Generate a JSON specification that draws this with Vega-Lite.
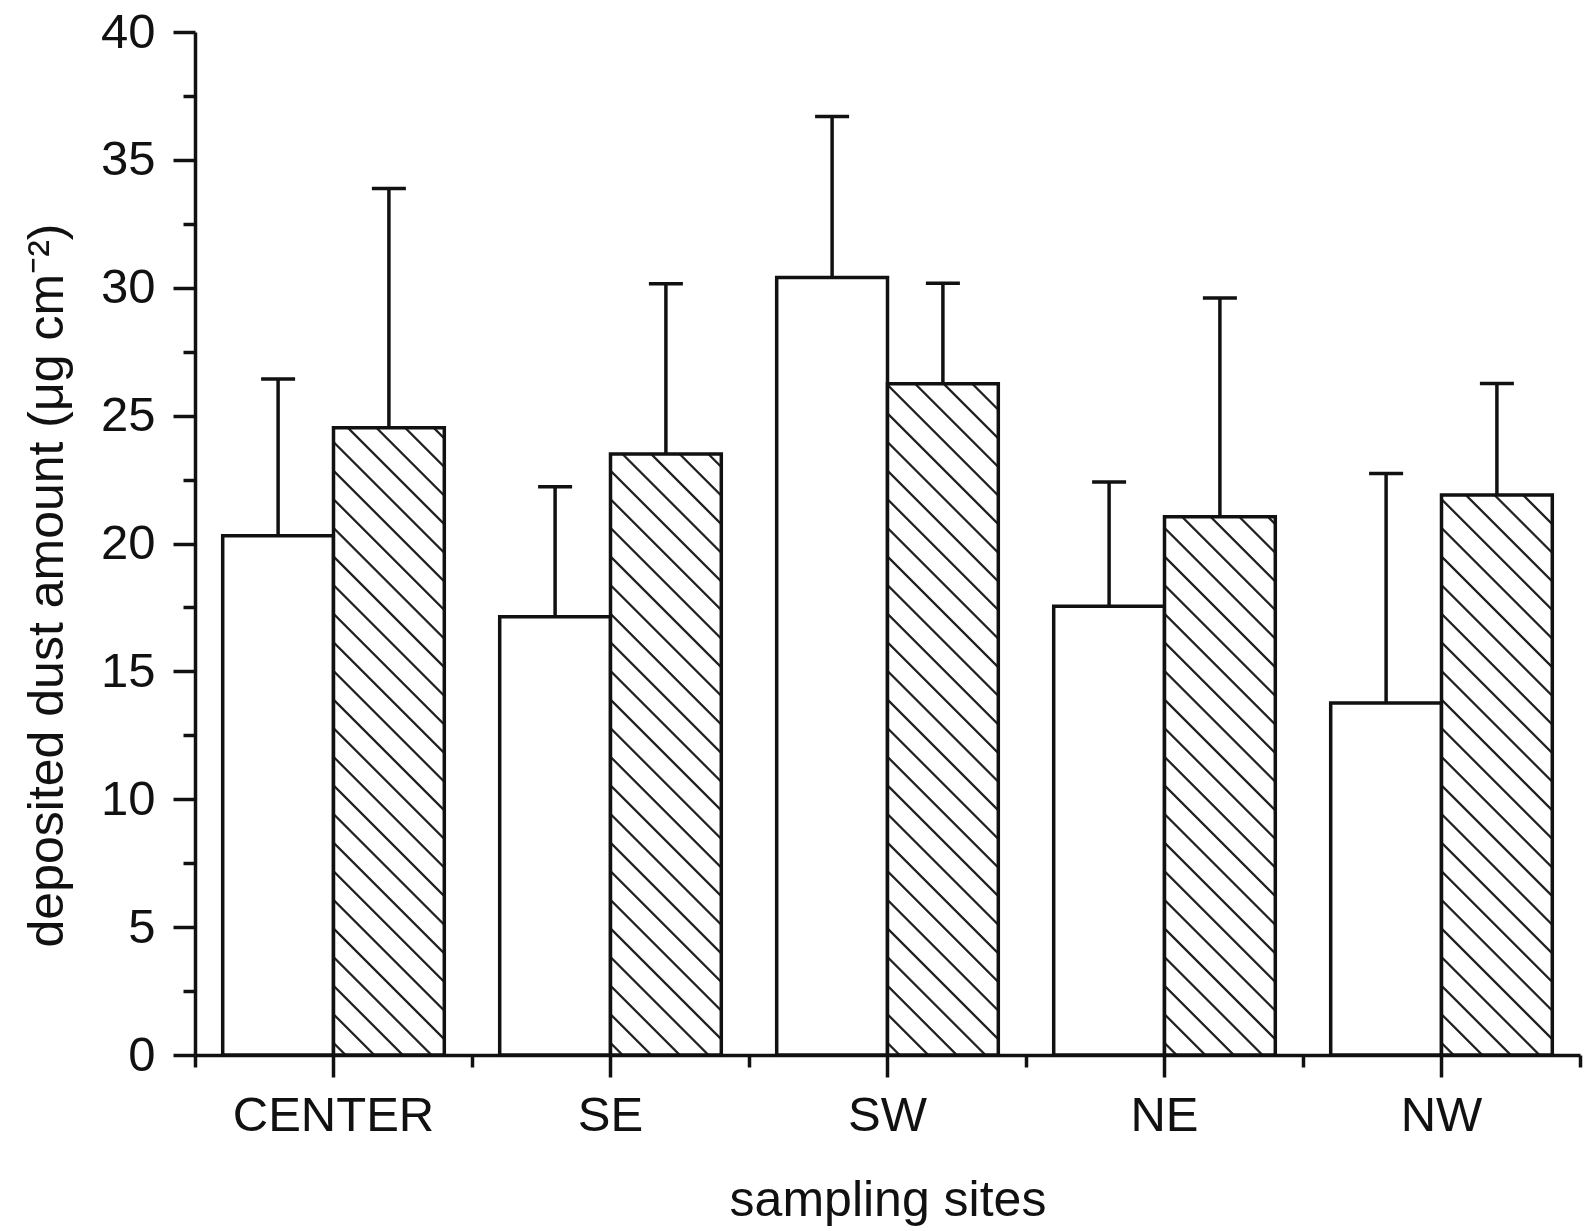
{
  "$schema": "https://vega.github.io/schema/vega-lite/v6.json",
  "autosize": {"type": "none"},
  "padding": {"left": 195, "top": 32, "right": 5, "bottom": 176},
  "width": 1385,
  "height": 1023,
  "background": "white",
  "config": {"view": {"stroke": null}, "font": "Liberation Sans"},
  "params": [
    {"name": "hatchStops", "value": [
      {"offset": 0, "color": "#ffffff"},
      {"offset": 0.0122, "color": "#ffffff"}, {"offset": 0.0138, "color": "#222222"}, {"offset": 0.0162, "color": "#222222"}, {"offset": 0.0178, "color": "#ffffff"},
      {"offset": 0.0477, "color": "#ffffff"}, {"offset": 0.0493, "color": "#222222"}, {"offset": 0.0517, "color": "#222222"}, {"offset": 0.0533, "color": "#ffffff"},
      {"offset": 0.0832, "color": "#ffffff"}, {"offset": 0.0848, "color": "#222222"}, {"offset": 0.0872, "color": "#222222"}, {"offset": 0.0888, "color": "#ffffff"},
      {"offset": 0.1187, "color": "#ffffff"}, {"offset": 0.1203, "color": "#222222"}, {"offset": 0.1227, "color": "#222222"}, {"offset": 0.1243, "color": "#ffffff"},
      {"offset": 0.1542, "color": "#ffffff"}, {"offset": 0.1558, "color": "#222222"}, {"offset": 0.1582, "color": "#222222"}, {"offset": 0.1598, "color": "#ffffff"},
      {"offset": 0.1897, "color": "#ffffff"}, {"offset": 0.1913, "color": "#222222"}, {"offset": 0.1937, "color": "#222222"}, {"offset": 0.1953, "color": "#ffffff"},
      {"offset": 0.2252, "color": "#ffffff"}, {"offset": 0.2268, "color": "#222222"}, {"offset": 0.2292, "color": "#222222"}, {"offset": 0.2308, "color": "#ffffff"},
      {"offset": 0.2607, "color": "#ffffff"}, {"offset": 0.2623, "color": "#222222"}, {"offset": 0.2647, "color": "#222222"}, {"offset": 0.2663, "color": "#ffffff"},
      {"offset": 0.2962, "color": "#ffffff"}, {"offset": 0.2978, "color": "#222222"}, {"offset": 0.3002, "color": "#222222"}, {"offset": 0.3018, "color": "#ffffff"},
      {"offset": 0.3317, "color": "#ffffff"}, {"offset": 0.3333, "color": "#222222"}, {"offset": 0.3357, "color": "#222222"}, {"offset": 0.3373, "color": "#ffffff"},
      {"offset": 0.3672, "color": "#ffffff"}, {"offset": 0.3688, "color": "#222222"}, {"offset": 0.3712, "color": "#222222"}, {"offset": 0.3728, "color": "#ffffff"},
      {"offset": 0.4027, "color": "#ffffff"}, {"offset": 0.4043, "color": "#222222"}, {"offset": 0.4067, "color": "#222222"}, {"offset": 0.4083, "color": "#ffffff"},
      {"offset": 0.4382, "color": "#ffffff"}, {"offset": 0.4398, "color": "#222222"}, {"offset": 0.4422, "color": "#222222"}, {"offset": 0.4438, "color": "#ffffff"},
      {"offset": 0.4737, "color": "#ffffff"}, {"offset": 0.4753, "color": "#222222"}, {"offset": 0.4777, "color": "#222222"}, {"offset": 0.4793, "color": "#ffffff"},
      {"offset": 0.5092, "color": "#ffffff"}, {"offset": 0.5108, "color": "#222222"}, {"offset": 0.5132, "color": "#222222"}, {"offset": 0.5148, "color": "#ffffff"},
      {"offset": 0.5447, "color": "#ffffff"}, {"offset": 0.5463, "color": "#222222"}, {"offset": 0.5487, "color": "#222222"}, {"offset": 0.5503, "color": "#ffffff"},
      {"offset": 0.5802, "color": "#ffffff"}, {"offset": 0.5818, "color": "#222222"}, {"offset": 0.5842, "color": "#222222"}, {"offset": 0.5858, "color": "#ffffff"},
      {"offset": 0.6157, "color": "#ffffff"}, {"offset": 0.6173, "color": "#222222"}, {"offset": 0.6197, "color": "#222222"}, {"offset": 0.6213, "color": "#ffffff"},
      {"offset": 0.6512, "color": "#ffffff"}, {"offset": 0.6528, "color": "#222222"}, {"offset": 0.6552, "color": "#222222"}, {"offset": 0.6568, "color": "#ffffff"},
      {"offset": 0.6867, "color": "#ffffff"}, {"offset": 0.6883, "color": "#222222"}, {"offset": 0.6907, "color": "#222222"}, {"offset": 0.6923, "color": "#ffffff"},
      {"offset": 0.7222, "color": "#ffffff"}, {"offset": 0.7238, "color": "#222222"}, {"offset": 0.7262, "color": "#222222"}, {"offset": 0.7278, "color": "#ffffff"},
      {"offset": 0.7577, "color": "#ffffff"}, {"offset": 0.7593, "color": "#222222"}, {"offset": 0.7617, "color": "#222222"}, {"offset": 0.7633, "color": "#ffffff"},
      {"offset": 0.7932, "color": "#ffffff"}, {"offset": 0.7948, "color": "#222222"}, {"offset": 0.7972, "color": "#222222"}, {"offset": 0.7988, "color": "#ffffff"},
      {"offset": 0.8287, "color": "#ffffff"}, {"offset": 0.8303, "color": "#222222"}, {"offset": 0.8327, "color": "#222222"}, {"offset": 0.8343, "color": "#ffffff"},
      {"offset": 0.8642, "color": "#ffffff"}, {"offset": 0.8658, "color": "#222222"}, {"offset": 0.8682, "color": "#222222"}, {"offset": 0.8698, "color": "#ffffff"},
      {"offset": 0.8997, "color": "#ffffff"}, {"offset": 0.9013, "color": "#222222"}, {"offset": 0.9037, "color": "#222222"}, {"offset": 0.9053, "color": "#ffffff"},
      {"offset": 0.9352, "color": "#ffffff"}, {"offset": 0.9368, "color": "#222222"}, {"offset": 0.9392, "color": "#222222"}, {"offset": 0.9408, "color": "#ffffff"},
      {"offset": 0.9707, "color": "#ffffff"}, {"offset": 0.9723, "color": "#222222"}, {"offset": 0.9747, "color": "#222222"}, {"offset": 0.9763, "color": "#ffffff"},
      {"offset": 1, "color": "#ffffff"}
    ]}
  ],
  "data": {"values": [
    {"site": "CENTER", "group": "A", "mean": 20.3, "upper": 26.43},
    {"site": "CENTER", "group": "B", "mean": 24.53, "upper": 33.88},
    {"site": "SE", "group": "A", "mean": 17.14, "upper": 22.22},
    {"site": "SE", "group": "B", "mean": 23.5, "upper": 30.16},
    {"site": "SW", "group": "A", "mean": 30.4, "upper": 36.7},
    {"site": "SW", "group": "B", "mean": 26.25, "upper": 30.18},
    {"site": "NE", "group": "A", "mean": 17.55, "upper": 22.4},
    {"site": "NE", "group": "B", "mean": 21.05, "upper": 29.6},
    {"site": "NW", "group": "A", "mean": 13.76, "upper": 22.74},
    {"site": "NW", "group": "B", "mean": 21.9, "upper": 26.26}
  ]},
  "resolve": {"axis": {"x": "independent", "y": "independent"}},
  "layer": [
    {
      "transform": [{"filter": "datum.group === 'A'"}],
      "mark": {"type": "bar", "fill": "white", "stroke": "#111", "strokeWidth": 3.5},
      "encoding": {
        "x": {"field": "site", "type": "nominal", "sort": ["CENTER", "SE", "SW", "NE", "NW"],
          "scale": {"paddingInner": 0, "paddingOuter": 0},
          "axis": {"orient": "bottom", "title": "sampling sites", "titleFontSize": 50, "titleFontWeight": "normal", "titleColor": "#111",
            "titleBaseline": "alphabetic", "titleY": 160,
            "labelFontSize": 49, "labelColor": "#111", "labelAngle": 0, "labelPadding": 14, "labelLimit": 0,
            "tickSize": 22, "tickWidth": 3.5, "tickColor": "#111", "domainWidth": 3.5, "domainColor": "#111", "grid": false}},
        "xOffset": {"field": "group", "type": "nominal", "scale": {"domain": ["A", "B"], "paddingInner": 0, "paddingOuter": 0.25}},
        "y": {"field": "mean", "type": "quantitative", "scale": {"domain": [0, 40], "nice": false},
          "axis": {"orient": "left", "values": [0, 5, 10, 15, 20, 25, 30, 35, 40],
            "title": "deposited dust amount (μg cm⁻²)", "titleFontSize": 50, "titleFontWeight": "normal", "titleColor": "#111",
            "titleBaseline": "alphabetic", "titleX": -133, "titleY": 553,
            "labelFontSize": 49, "labelColor": "#111", "labelPadding": 18,
            "tickSize": 22, "tickWidth": 3.5, "tickColor": "#111", "domainWidth": 3.5, "domainColor": "#111", "grid": false}}
      }
    },
    {
      "transform": [{"filter": "datum.group === 'B'"}],
      "mark": {"type": "bar", "stroke": "#111", "strokeWidth": 3.5,
        "fill": {"expr": "{gradient: 'linear', x1: 0, y1: 1, x2: 89305/(12277+pow(datum.mean*25.575,2)), y2: 1-806*datum.mean*25.575/(12277+pow(datum.mean*25.575,2)), stops: hatchStops}"}},
      "encoding": {
        "x": {"field": "site", "type": "nominal", "sort": ["CENTER", "SE", "SW", "NE", "NW"], "axis": null},
        "xOffset": {"field": "group", "type": "nominal"},
        "y": {"field": "mean", "type": "quantitative", "axis": null}
      }
    },
    {
      "mark": {"type": "rule", "stroke": "#111", "strokeWidth": 3.5},
      "encoding": {
        "x": {"field": "site", "type": "nominal", "sort": ["CENTER", "SE", "SW", "NE", "NW"],
          "axis": {"orient": "bottom", "tickBand": "extent", "tickSize": 12, "tickWidth": 3.5, "tickColor": "#111",
            "labels": false, "domain": false, "title": null, "grid": false}},
        "xOffset": {"field": "group", "type": "nominal"},
        "y": {"field": "mean", "type": "quantitative",
          "axis": {"orient": "left", "values": [2.5, 7.5, 12.5, 17.5, 22.5, 27.5, 32.5, 37.5], "tickSize": 12, "tickWidth": 3.5, "tickColor": "#111",
            "labels": false, "domain": false, "title": null, "grid": false}},
        "y2": {"field": "upper"}
      }
    },
    {
      "mark": {"type": "tick", "color": "#111", "thickness": 3.5, "size": 34, "opacity": 1},
      "encoding": {
        "x": {"field": "site", "type": "nominal", "sort": ["CENTER", "SE", "SW", "NE", "NW"], "axis": null},
        "xOffset": {"field": "group", "type": "nominal"},
        "y": {"field": "upper", "type": "quantitative", "axis": null}
      }
    }
  ]
}
